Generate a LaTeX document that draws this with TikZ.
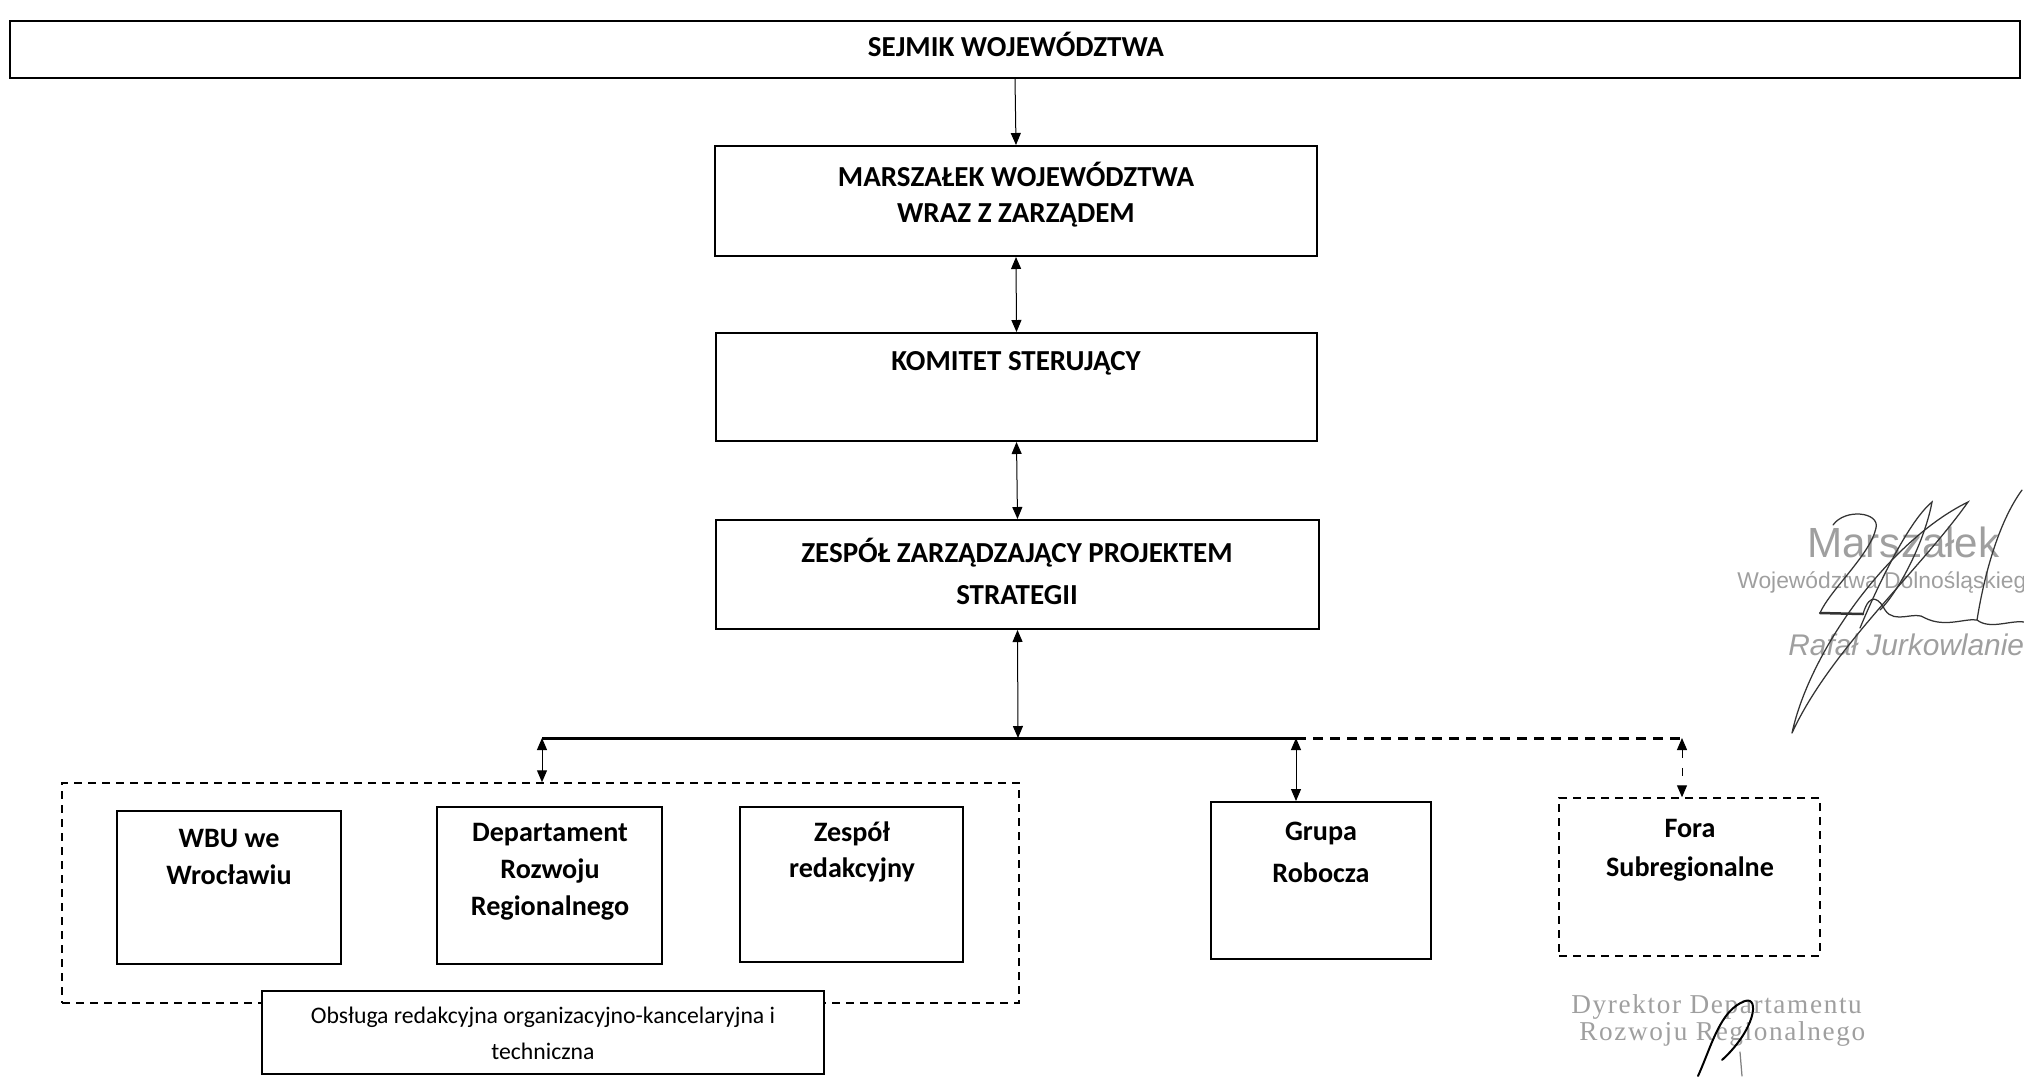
\documentclass[tikz,border=0pt]{standalone}
\usepackage{fontspec}
\setmainfont{Carlito}
\newfontfamily\stampsans{Liberation Sans}
\newfontfamily\stampserif[LetterSpace=6]{Liberation Serif}
\usetikzlibrary{arrows.meta,fit}

\begin{document}
\begin{tikzpicture}[x=0.2mm,y=-0.2mm,
  box/.style={draw,line width=0.4mm,inner sep=0pt},
  dbox/.style={draw,line width=0.3mm,inner sep=0pt,dash pattern=on 1.6mm off 1.2mm},
  head/.style={font=\bfseries\fontsize{16.5}{20.5}\selectfont,align=center},
  unit/.style={font=\bfseries\fontsize{16}{21}\selectfont,align=center},
  link/.style={line width=0.2mm,{Triangle[length=2.4mm,width=2mm]}-{Triangle[length=2.4mm,width=2mm]}},
  stamp/.style={gray!75,anchor=base west,inner sep=0pt},
  sign/.style={line width=0.25mm,gray!40!black,line cap=round}]
\useasboundingbox (0,0) rectangle (2024,1076);

% main chain
\node [box,fit={(10,21) (2020,78)}] (sejmik) {};
\node [head] (sejmikT) at (1016,44) {SEJMIK WOJEWÓDZTWA};
\node [box,fit={(715,146) (1317,256)}] (marsz) {};
\node [head] (marszT) at (1016,195) {MARSZAŁEK WOJEWÓDZTWA\\WRAZ Z ZARZĄDEM};
\node [box,fit={(716,333) (1317,441)}] (komitet) {};
\node [head] (komitetT) at (1016,363) {KOMITET STERUJĄCY};
\node [box,fit={(716,520) (1319,629)}] (zespol) {};
\node [head,font=\bfseries\fontsize{16.5}{24}\selectfont] (zespolT) at (1017,571) {ZESPÓŁ ZARZĄDZAJĄCY PROJEKTEM\\STRATEGII};

% bottom level
\node [dbox,fit={(62,783) (1019,1003)}] (wsparcie) {};
\node [box,fit={(117,811) (341,964)}] (wbu) {};
\node [unit] (wbuT) at (229,857) {WBU we\\Wrocławiu};
\node [box,fit={(437,807) (662,964)}] (drr) {};
\node [unit] (drrT) at (550,872) {Departament\\Rozwoju\\Regionalnego};
\node [box,fit={(740,807) (963,962)}] (redakcja) {};
\node [unit] (redakcjaT) at (852,852) {Zespół\\redakcyjny};
\node [box,fill=white,fit={(262,991) (824,1074)}] (obsluga) {};
\node [align=center,font=\fontsize{13.5}{20.5}\selectfont] (obslugaT) at (543,1033)
  {Obsługa redakcyjna organizacyjno-kancelaryjna i\\techniczna};
\node [box,fit={(1211,802) (1431,959)}] (grupa) {};
\node [unit,font=\bfseries\fontsize{16}{24}\selectfont] (grupaT) at (1321,852) {Grupa\\Robocza};
\node [dbox,fit={(1559,798) (1820,956)}] (fora) {};
\node [unit,font=\bfseries\fontsize{16}{22}\selectfont] (foraT) at (1690,850) {Fora\\Subregionalne};

% connectors
\coordinate (jL) at (542,738);
\coordinate (jM) at (1018,738);
\coordinate (jG) at (1296,738);
\coordinate (jF) at (1682,738);
\draw [line width=0.2mm,-{Triangle[length=2.4mm,width=2mm]}] (sejmik.south) -- (marsz.north);
\draw [link] (marsz.south) -- (komitet.north);
\draw [link] (komitet.south) -- (zespol.north);
\draw [link] (zespol.south) -- (jM);
\draw [line width=0.6mm] (jL) -- (jG);
\draw [line width=0.6mm,dash pattern=on 2mm off 1.4mm] (jG) -- (jF);
\draw [link] (jL) -- (jL |- wsparcie.north);
\draw [link] (jG) -- (jG |- grupa.north);
\draw [link,dash pattern=on 1.6mm off 2mm] (jF) -- (jF |- fora.north);

% stamps
\node [stamp,font=\stampsans\fontsize{24}{24}\selectfont] (st1) at (1807,557) {Marszałek};
\node [stamp,font=\stampsans\fontsize{13}{13}\selectfont] (st2) at (1737,588) {Województwa Dolnośląskiego};
\node [stamp,font=\stampsans\itshape\fontsize{17}{17}\selectfont] (st3) at (1788,655) {Rafał Jurkowlaniec};
\node [stamp,font=\stampserif\fontsize{15.5}{15.5}\selectfont] (st4) at (1571,1013) {Dyrektor Departamentu};
\node [stamp,font=\stampserif\fontsize{15.5}{15.5}\selectfont] (st5) at (1579,1040) {Rozwoju Regionalnego};

% signatures
\draw [sign] (1792,733) .. controls (1810,650) and (1890,540) .. (1968,502)
  .. controls (1920,570) and (1830,650) .. (1792,733);
\draw [sign] (1833,525) .. controls (1845,508) and (1880,512) .. (1876,528)
  .. controls (1870,555) and (1830,590) .. (1820,613);
\draw [sign,line width=0.5mm] (1820,613) -- (1863,614);
\draw [sign] (1863,614) .. controls (1870,590) and (1880,600) .. (1885,610)
  .. controls (1895,625) and (1915,610) .. (1925,618)
  .. controls (1945,628) and (1965,618) .. (1977,620)
  .. controls (1990,630) and (2010,620) .. (2024,622);
\draw [sign] (1860,628) .. controls (1880,580) and (1910,520) .. (1932,502)
  .. controls (1925,540) and (1900,590) .. (1880,610);
\draw [sign] (1977,620) .. controls (1985,570) and (2000,520) .. (2022,490);
\draw [sign,line width=0.4mm,black] (1698,1076) .. controls (1712,1045) and (1720,1010) .. (1745,1001)
  .. controls (1760,996) and (1755,1030) .. (1722,1060);
\draw [sign,gray] (1740,1052) -- (1742,1076);
\end{tikzpicture}
\end{document}
